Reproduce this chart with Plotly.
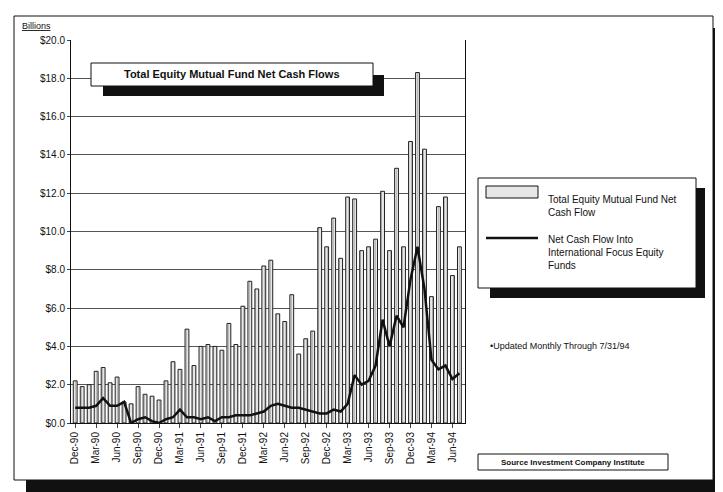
import plotly.graph_objects as go

tick_labels = ["Dec-90","Mar-90","Jun-90","Sep-90","Dec-90","Mar-91","Jun-91","Sep-91","Dec-91","Mar-92",
               "Jun-92","Sep-92","Dec-92","Mar-93","Jun-93","Sep-93","Dec-93","Mar-94","Jun-94"]
total_flow = [2.2,1.9,2.0,2.7,2.9,2.1,2.4,1.1,1.0,1.9,1.5,1.4,1.2,
              2.2,3.2,2.8,4.9,3.0,4.0,4.1,4.0,3.8,5.2,4.1,6.1,
              7.4,7.0,8.2,8.5,5.7,5.3,6.7,3.6,4.4,4.8,10.2,9.2,
              10.7,8.6,11.8,11.7,9.0,9.2,9.6,12.1,9.0,13.3,9.2,14.7,
              18.3,14.3,6.6,11.3,11.8,7.7,9.2]
intl_flow = [0.8,0.8,0.8,0.9,1.3,0.9,0.9,1.1,0.0,0.2,
             0.3,0.1,0.0,0.2,0.3,0.7,0.3,0.3,0.2,0.3,
             0.1,0.3,0.3,0.4,0.4,0.4,0.5,0.6,
             0.9,1.0,0.9,0.8,0.8,0.7,0.6,0.5,0.5,0.7,
             0.6,1.0,2.5,2.0,2.2,3.0,5.4,4.0,5.6,5.0,
             7.5,9.2,7.0,3.3,2.8,3.0,2.3,2.6]
months = list(range(len(total_flow)))

W, H = 723, 492
L, R, T, B = 63, 457, 32, 415
def px(x): return (x - L) / (R - L)
def py(y): return (B - y) / (B - T)

fig = go.Figure()
fig.add_trace(go.Bar(x=months, y=total_flow, width=0.55,
                     marker=dict(color="#e6e6e6", line=dict(color="#222", width=1),
                                 pattern=dict(shape="|", fgcolor="#888", size=3, solidity=0.3)),
                     showlegend=False))
fig.add_trace(go.Scatter(x=list(range(len(intl_flow))), y=intl_flow, mode="lines",
                         line=dict(color="#111", width=2.5), showlegend=False))

shapes = []
def rect(x0, y0, x1, y1, fill="white", lw=1):
    shapes.append(dict(type="rect", xref="paper", yref="paper", x0=px(x0), x1=px(x1),
                       y0=py(y1), y1=py(y0), fillcolor=fill, line=dict(color="#111", width=lw), layer="above"))
rect(18, 472, 716, 487, fill="#111", lw=0)
rect(705, 20, 716, 487, fill="#111", lw=0)
shapes.insert(0, dict(type="rect", xref="paper", yref="paper", x0=px(6), x1=px(705), y0=py(472), y1=py(8),
                      line=dict(color="#111", width=1), layer="below"))
rect(95, 67, 376, 88, fill="#111", lw=0)
rect(83, 55, 365, 78)
rect(482, 180, 697, 290, fill="#111", lw=0)
rect(470, 170, 688, 280)
rect(478, 178, 530, 190, fill="#e6e6e6")
shapes.append(dict(type="line", xref="paper", yref="paper", x0=px(478), x1=px(530), y0=py(230), y1=py(230),
                   line=dict(color="#111", width=2.5)))
rect(470, 446, 660, 462)

ann = [
    dict(x=px(224), y=py(66), text="<b>Total Equity Mutual Fund Net Cash Flows</b>", size=11),
    dict(x=px(538), y=py(184), text="Total Equity Mutual Fund Net<br>Cash Flow", size=10, xa="left", ya="top"),
    dict(x=px(538), y=py(224), text="Net Cash Flow Into<br>International Focus Equity<br>Funds", size=10, xa="left", ya="top"),
    dict(x=px(480), y=py(338), text="•Updated Monthly Through 7/31/94", size=9, xa="left"),
    dict(x=px(565), y=py(454), text="<b>Source Investment Company Institute</b>", size=8),
    dict(x=px(12), y=py(18), text="<u>Billions</u>", size=9, xa="left"),
]
annotations = []
for a in ann:
    annotations.append(dict(xref="paper", yref="paper", x=a["x"], y=a["y"], text=a["text"], showarrow=False,
                            xanchor=a.get("xa", "center"), yanchor=a.get("ya", "middle"), align="left",
                            font=dict(family="Arial, Liberation Sans", size=a["size"], color="#111")))

fig.update_layout(
    width=W, height=H, margin=dict(l=L, r=W - R, t=T, b=H - B),
    paper_bgcolor="white", plot_bgcolor="white", bargap=0.3,
    font=dict(family="Arial, Liberation Sans", color="#111"),
    shapes=shapes, annotations=annotations,
    xaxis=dict(range=[-0.6, 55.8], tickvals=list(range(0, 55, 3)), ticktext=tick_labels, tickangle=-90,
               tickfont=dict(size=10), showline=True, linecolor="#111", ticks="outside", ticklen=4, showgrid=False),
    yaxis=dict(range=[0, 20], dtick=2, tickformat="$.1f", tickfont=dict(size=10), showline=True,
               linecolor="#111", mirror=True, gridcolor="#555", gridwidth=1, ticks="outside", ticklen=3),
)
fig.write_html("out.html")
